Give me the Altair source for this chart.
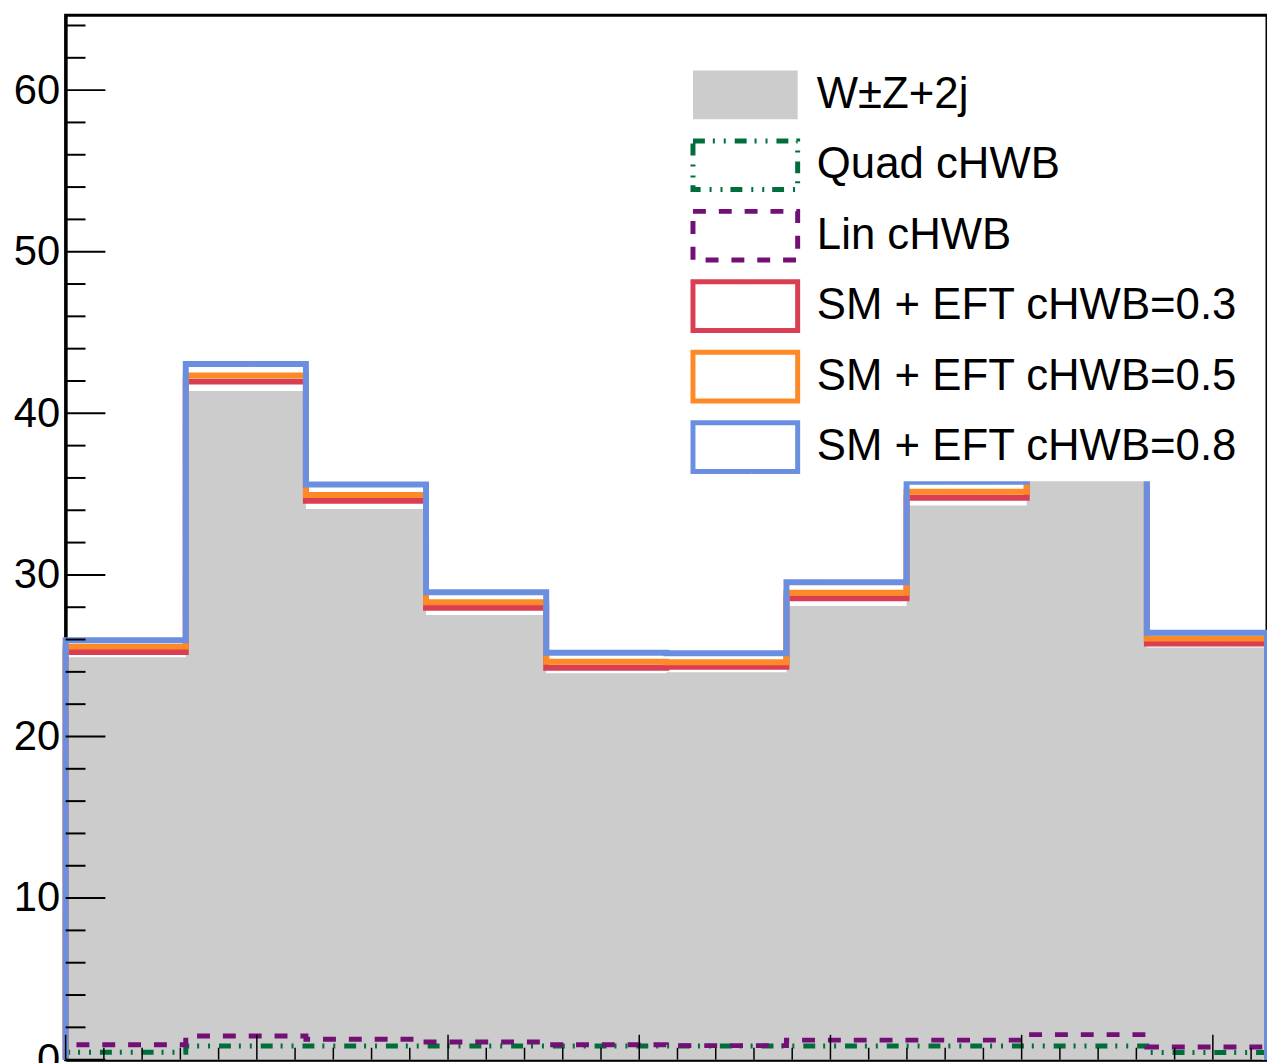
import numpy as np
import pandas as pd
import altair as alt

# ---------------- data ----------------
labels = ["W±Z+2j", "Quad cHWB", "Lin cHWB",
          "SM + EFT cHWB=0.3", "SM + EFT cHWB=0.5", "SM + EFT cHWB=0.8"]

n_bins = 10
x_min, x_max = 0.0, float(np.pi)

sm     = [24.90, 41.38, 34.08, 27.52, 23.92, 23.97, 28.08, 34.30, 41.00, 25.50]
quad   = [0.46, 0.84, 0.84, 0.84, 0.84, 0.84, 0.84, 0.84, 0.84, 0.45]
lin    = [0.93, 1.46, 1.26, 1.09, 0.93, 0.87, 1.21, 1.21, 1.55, 0.79]
eft03  = [25.23, 41.96, 34.58, 27.97, 24.26, 24.31, 28.56, 34.78, 41.50, 25.75]
eft05  = [25.56, 42.34, 34.94, 28.31, 24.62, 24.60, 28.90, 35.15, 41.95, 26.07]
eft08  = [25.95, 43.05, 35.59, 28.92, 25.18, 25.15, 29.55, 35.76, 42.80, 26.42]

y_major_ticks = [0, 10, 20, 30, 40, 50, 60]
y_minor_ticks = [v for v in range(2, 65, 2) if v % 10 != 0]
x_major_ticks = [0.0, 0.5, 1.0, 1.5, 2.0, 2.5, 3.0]
x_minor_ticks = [round(0.1 * k, 1) for k in range(1, 32) if k % 5 != 0]

# ---------------- styles ----------------
fill_range = ["#cccccc", "white", "white", "white", "white", "white"]
stroke_range = ["transparent", "#006e3b", "#721075", "#da3e52", "#fd8a26", "#6a8fe0"]
dash_range = [[1, 0], [12, 8, 2, 9, 2, 9], [13, 13], [1, 0], [1, 0], [1, 0]]

W, H = 1209, 1051
FONT = "Liberation Sans"

edges = np.linspace(x_min, x_max, n_bins + 1)


def step_rows(name, vals):
    pts = [(edges[0], 0.0)] + [(edges[i], v) for i, v in enumerate(vals)] \
          + [(edges[-1], vals[-1]), (edges[-1], 0.0)]
    return pd.DataFrame([dict(series=name, i=k, x=float(x), y=float(y))
                         for k, (x, y) in enumerate(pts)])


def area_rows(name, vals):
    pts = [(edges[i], v) for i, v in enumerate(vals)] + [(edges[-1], vals[-1])]
    return pd.DataFrame([dict(series=name, i=k, x=float(x), y=float(y))
                         for k, (x, y) in enumerate(pts)])


xs = alt.Scale(domain=[x_min, x_max], nice=False, zero=False)
ys = alt.Scale(domain=[0, 64.63], nice=False, zero=True)
fill_scale = alt.Scale(domain=labels, range=fill_range)
stroke_scale = alt.Scale(domain=labels, range=stroke_range)
dash_scale = alt.Scale(domain=labels, range=dash_range)

legend = alt.Legend(
    orient="none", legendX=630, legendY=53, padding=0, fillColor="white",
    title=None, symbolType="M-2.15,-1H2.15V1H-2.15Z", symbolSize=2401,
    symbolStrokeWidth=5, symbolOffset=27, labelOffset=45, rowPadding=0.9,
    labelFontSize=44, labelFont=FONT, labelColor="black", labelLimit=1000,
)

x_axis = alt.Axis(labels=False, ticks=False, domainColor="black", domainWidth=3,
                  grid=False, title=None)
y_axis = alt.Axis(values=y_major_ticks, ticks=False, domainColor="black", domainWidth=3,
                  grid=False, title=None, labelFontSize=42, labelFont=FONT,
                  labelColor="black", labelPadding=6)

X = lambda f: alt.X(f, scale=xs, axis=x_axis)
Y = lambda f: alt.Y(f, scale=ys, axis=y_axis)

white_line = alt.Chart(step_rows("SM", sm)).mark_line(
    interpolate="step-after", color="white", strokeWidth=10
).encode(x=X("x:Q"), y=Y("y:Q"), order=alt.Order("i:Q"))

area = alt.Chart(area_rows(labels[0], sm)).mark_area(interpolate="step-after").encode(
    x=X("x:Q"), y=Y("y:Q"),
    fill=alt.Fill("series:N", scale=fill_scale, legend=legend),
)


def hist_line(name, vals, width):
    return alt.Chart(step_rows(name, vals)).mark_line(
        interpolate="step-after", strokeWidth=width
    ).encode(
        x=X("x:Q"), y=Y("y:Q"),
        order=alt.Order("i:Q"),
        stroke=alt.Stroke("series:N", scale=stroke_scale, legend=legend),
        strokeDash=alt.StrokeDash("series:N", scale=dash_scale, legend=legend),
    )


lines = [
    hist_line(labels[1], quad, 5),
    hist_line(labels[2], lin, 5),
    hist_line(labels[3], eft03, 6),
    hist_line(labels[4], eft05, 6),
    hist_line(labels[5], eft08, 6),
]

yt_major = alt.Chart(pd.DataFrame({"v": y_major_ticks})).mark_rule(
    color="black", strokeWidth=2).encode(y=Y("v:Q"), x=alt.value(0), x2=alt.value(40))
yt_minor = alt.Chart(pd.DataFrame({"v": y_minor_ticks})).mark_rule(
    color="black", strokeWidth=2).encode(y=Y("v:Q"), x=alt.value(0), x2=alt.value(20))
xt_major = alt.Chart(pd.DataFrame({"v": x_major_ticks})).mark_rule(
    color="black", strokeWidth=1.5).encode(x=X("v:Q"), y=alt.value(H), y2=alt.value(H - 25))
xt_minor = alt.Chart(pd.DataFrame({"v": x_minor_ticks})).mark_rule(
    color="black", strokeWidth=1.5).encode(x=X("v:Q"), y=alt.value(H), y2=alt.value(H - 12))

chart = alt.layer(
    white_line, area, *lines, yt_major, yt_minor, xt_major, xt_minor
).properties(
    width=W, height=H,
    background="white",
    autosize=alt.AutoSizeParams(type="none"),
    padding={"left": 58, "top": 4, "right": 0, "bottom": 0},
).configure_view(
    stroke="black", strokeWidth=3
)

chart.save("out.html", embed_options={"renderer": "svg", "actions": False})
